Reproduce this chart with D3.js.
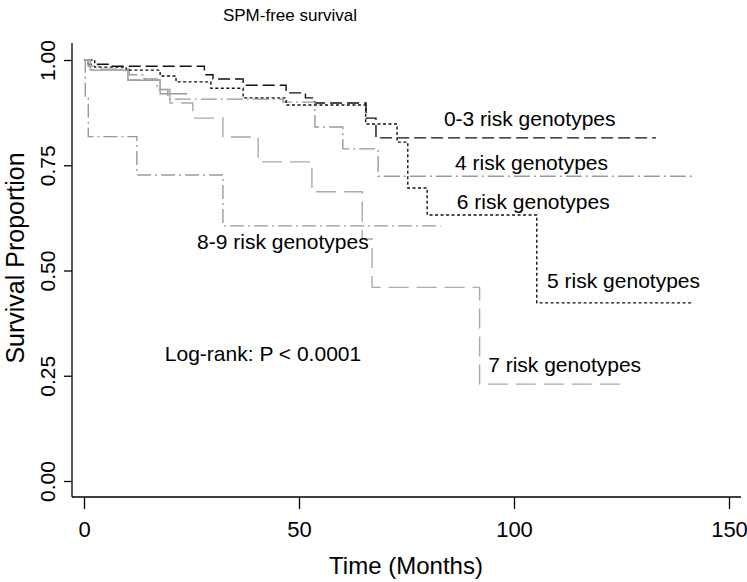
<!DOCTYPE html>
<html>
<head>
<meta charset="utf-8">
<script src="https://cdn.jsdelivr.net/npm/d3@7"></script>
<style>
  html, body { margin: 0; padding: 0; background: #fff; }
  svg { display: block; font-family: "Liberation Sans", Arial, sans-serif; }
</style>
</head>
<body>
<svg id="chart" width="747" height="582"></svg>
<script>
// ---- data ----
const title = "SPM-free survival";
const xTicks = [0, 50, 100, 150];
const yTicks = [0, 0.25, 0.5, 0.75, 1];
const yTickLabels = ["0.00", "0.25", "0.50", "0.75", "1.00"];

const groupNames = ["0-3 risk genotypes", "4 risk genotypes", "5 risk genotypes",
                    "6 risk genotypes", "7 risk genotypes", "8-9 risk genotypes"];

const times03 = [0, 1, 6, 28, 30, 37, 47, 51.5, 53.7, 65.6, 67.9];
const surv03  = [1, 0.99, 0.985, 0.965, 0.955, 0.94, 0.922, 0.91, 0.898, 0.862, 0.815];
const end03 = 133;

const times4 = [0, 1, 4, 10.5, 14, 17, 19.5, 46.3, 53.7, 60.2, 68.4];
const surv4  = [1, 0.985, 0.978, 0.965, 0.955, 0.93, 0.907, 0.9, 0.841, 0.789, 0.724];
const end4 = 141.6;

const times5 = [0, 2.5, 9.8, 17.7, 21.4, 29.5, 37, 47, 65.5, 72.8, 75.3, 79.8, 105.3];
const surv5  = [1, 0.983, 0.976, 0.962, 0.948, 0.933, 0.91, 0.893, 0.848, 0.805, 0.696, 0.632, 0.423];
const end5 = 141.6;

const times6 = [0, 1.5, 10.2, 17.7];
const surv6  = [1, 0.976, 0.952, 0.92];
const end6 = 24;

const times7 = [0, 1.5, 10.2, 17.7, 20, 25.3, 32.3, 40.5, 53, 64.7, 67, 92];
const surv7  = [1, 0.977, 0.953, 0.93, 0.898, 0.862, 0.817, 0.758, 0.687, 0.575, 0.46, 0.23];
const end7 = 126;

const times89 = [0, 0.3, 1, 12.3, 32.3];
const surv89  = [1, 0.909, 0.818, 0.727, 0.606];
const end89 = 83;

// annotation anchors in data units (months, survival)
const labelMonths = [83.7, 86.3, 107.7, 86.7, 94, 26.3];
const labelSurv   = [0.843, 0.739, 0.458, 0.646, 0.259, 0.551];
const logRankText = "Log-rank: P < 0.0001";
const logRankPos = [18.8, 0.285];

// ---- drawing ----
const svg = d3.select("#chart");
const x = d3.scaleLinear().domain([0, 150]).range([84, 729]);
const y = d3.scaleLinear().domain([0, 1]).range([481, 60]);

const axisLeftX = 72, axisBottomY = 497;

// title
svg.append("text").attr("x", 290).attr("y", 21).attr("text-anchor", "middle")
  .attr("font-size", 17).attr("fill", "#000").text(title);

// y axis
const yAxis = d3.axisLeft(y).tickValues(yTicks).tickSize(8).tickFormat((d, i) => yTickLabels[i]);
const gy = svg.append("g").attr("transform", `translate(${axisLeftX},0)`).call(yAxis);
gy.select(".domain").remove();
gy.append("line").attr("x1", 0).attr("x2", 0).attr("y1", 43).attr("y2", axisBottomY)
  .attr("stroke", "#000").attr("stroke-width", 1.3);
gy.selectAll(".tick line").attr("stroke", "#000").attr("stroke-width", 1.3);
gy.selectAll(".tick text")
  .attr("font-size", 21).attr("fill", "#000").attr("font-family", "Liberation Sans, Arial, sans-serif")
  .attr("text-anchor", "middle").attr("dy", 0).attr("x", 0)
  .attr("transform", "translate(-17,0) rotate(-90)");

// x axis
const xAxis = d3.axisBottom(x).tickValues(xTicks).tickSize(12).tickFormat(d3.format("d"));
const gx = svg.append("g").attr("transform", `translate(0,${axisBottomY})`).call(xAxis);
gx.select(".domain").remove();
gx.append("line").attr("x1", axisLeftX).attr("x2", 741).attr("y1", 0).attr("y2", 0)
  .attr("stroke", "#000").attr("stroke-width", 1.3);
gx.selectAll(".tick line").attr("stroke", "#000").attr("stroke-width", 1.3);
gx.selectAll(".tick text").attr("font-size", 22).attr("fill", "#000")
  .attr("font-family", "Liberation Sans, Arial, sans-serif").attr("y", 40).attr("dy", 0);

// axis titles
svg.append("text").attr("x", 406).attr("y", 574).attr("text-anchor", "middle")
  .attr("font-size", 24).attr("fill", "#000").text("Time (Months)");
svg.append("text").attr("transform", "translate(24,258) rotate(-90)").attr("text-anchor", "middle")
  .attr("font-size", 25).attr("fill", "#000").text("Survival Proportion");

// curves
const series = [
  {t: times03, s: surv03, end: end03, color: "#111", dash: "12,5"},
  {t: times4,  s: surv4,  end: end4,  color: "#999", dash: "16,4,2,4"},
  {t: times5,  s: surv5,  end: end5,  color: "#111", dash: "3,2.5"},
  {t: times6,  s: surv6,  end: end6,  color: "#999", dash: null},
  {t: times7,  s: surv7,  end: end7,  color: "#aaa", dash: "20,8"},
  {t: times89, s: surv89, end: end89, color: "#999", dash: "14,4,2,4"}
];
const line = d3.line().x(d => x(d[0])).y(d => y(d[1])).curve(d3.curveStepAfter);
series.forEach(sr => {
  const pts = sr.t.map((t, i) => [t, sr.s[i]]);
  pts.push([sr.end, sr.s[sr.s.length - 1]]);
  const p = svg.append("path").datum(pts).attr("d", line)
    .attr("fill", "none").attr("stroke", sr.color).attr("stroke-width", 1.4);
  if (sr.dash) p.attr("stroke-dasharray", sr.dash);
});

// labels
groupNames.forEach((name, i) => {
  svg.append("text").attr("x", x(labelMonths[i])).attr("y", y(labelSurv[i]))
    .attr("font-size", 21).attr("fill", "#000").text(name);
});
svg.append("text").attr("x", x(logRankPos[0])).attr("y", y(logRankPos[1]))
  .attr("font-size", 21).attr("fill", "#000").text(logRankText);
</script>
</body>
</html>
